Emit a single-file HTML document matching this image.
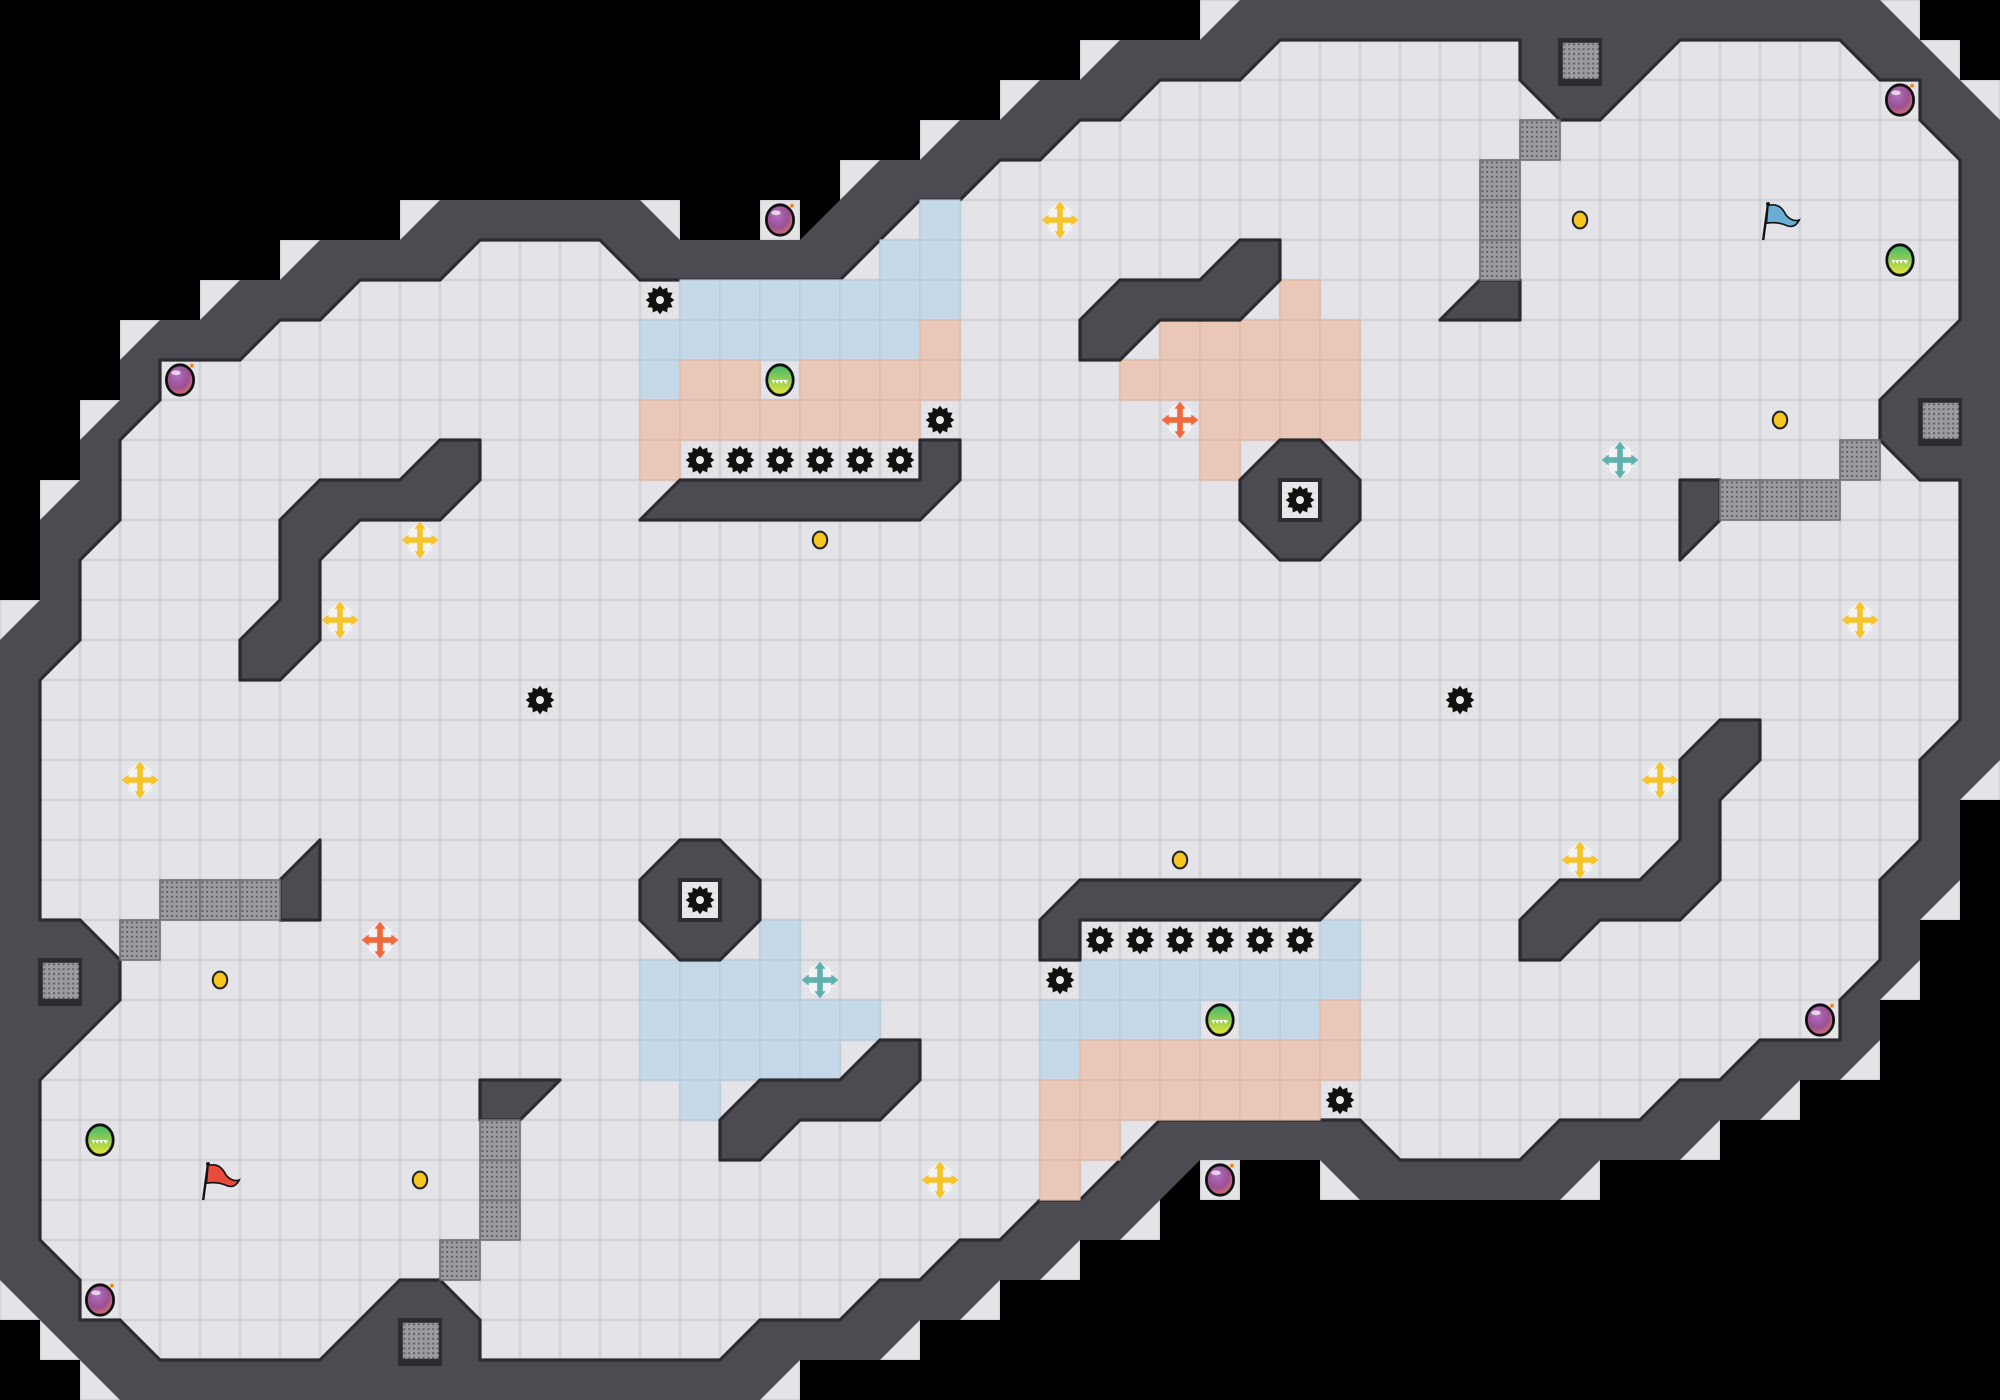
<!DOCTYPE html>
<html><head><meta charset="utf-8"><style>
html,body{margin:0;padding:0;background:#000;}
svg{display:block;}
</style></head><body>
<svg width="2000" height="1400" viewBox="0 0 2000 1400" xmlns="http://www.w3.org/2000/svg">
<defs>
<pattern id="fl" patternUnits="userSpaceOnUse" width="1" height="1">
<rect width="1" height="1" fill="#d3d3d8"/><rect x="0.035" y="0.035" width="0.93" height="0.93" fill="#e4e4e8"/>
</pattern>
<pattern id="dots" patternUnits="userSpaceOnUse" width="0.12" height="0.12">
<rect width="0.12" height="0.12" fill="#9c9ca0"/><circle cx="0.06" cy="0.06" r="0.028" fill="#5e5e62"/>
</pattern>
<radialGradient id="bombg" cx="0.4" cy="0.35" r="0.7"><stop offset="0" stop-color="#b070c0"/><stop offset="0.6" stop-color="#9a4f90"/><stop offset="1" stop-color="#e07a6a"/></radialGradient>
<linearGradient id="greeng" x1="0" y1="0" x2="0" y2="1"><stop offset="0" stop-color="#3fb86a"/><stop offset="1" stop-color="#e8e43a"/></linearGradient>
<g id="saw">
<polygon fill="#111" points=".36,0 .261,.07 .312,.18 .191,.191 .18,.312 .07,.261 0,.36 -.07,.261 -.18,.312 -.191,.191 -.312,.18 -.261,.07 -.36,0 -.261,-.07 -.312,-.18 -.191,-.191 -.18,-.312 -.07,-.261 0,-.36 .07,-.261 .18,-.312 .191,-.191 .312,-.18 .261,-.07"/>
<circle r="0.27" fill="#111"/><circle r="0.1" fill="#e8e8ec"/>
</g>
<g id="bomb">
<ellipse rx="0.34" ry="0.38" fill="url(#bombg)" stroke="#111" stroke-width="0.07"/>
<ellipse cx="-0.1" cy="-0.18" rx="0.12" ry="0.06" fill="#fff" opacity="0.7"/>
<circle cx="0.3" cy="-0.36" r="0.05" fill="#f08a20"/>
</g>
<g id="green">
<ellipse rx="0.33" ry="0.38" fill="url(#greeng)" stroke="#111" stroke-width="0.07"/>
<path d="M-0.2,0 L0.2,0 L0.14,0.1 L0.08,0 L0.03,0.1 L-0.02,0 L-0.07,0.1 L-0.12,0 L-0.17,0.1Z" fill="#fff"/>
</g>
<g id="coin"><ellipse rx="0.18" ry="0.21" fill="#f6c520" stroke="#222" stroke-width="0.05"/></g>
<g id="cross">
<ellipse rx="0.34" ry="0.4" fill="#f6f6f8" opacity="0.8"/>
<rect x="-0.33" y="-0.07" width="0.66" height="0.14"/>
<rect x="-0.07" y="-0.33" width="0.14" height="0.66"/>
<polygon points="0,-0.46 -0.14,-0.28 0.14,-0.28"/>
<polygon points="0,0.46 -0.14,0.28 0.14,0.28"/>
<polygon points="-0.46,0 -0.28,-0.14 -0.28,0.14"/>
<polygon points="0.46,0 0.28,-0.14 0.28,0.14"/>
</g>
<g id="gb"><rect x="0" y="0" width="1" height="1" fill="url(#dots)" stroke="#707075" stroke-width="0.04"/></g>
<g id="gbf"><rect x="-0.1" y="-0.1" width="1.1" height="1.2" fill="#2b2b30"/><rect x="0.02" y="0.02" width="0.9" height="0.9" fill="url(#dots)"/></g>
</defs>
<rect width="2000" height="1400" fill="#000"/>
<g transform="scale(40)">
<g fill="url(#fl)">
<rect x="0" y="15" width="1" height="1"/><rect x="1" y="12" width="1" height="1"/><rect x="2" y="10" width="1" height="1"/><rect x="3" y="8" width="1" height="1"/><rect x="5" y="7" width="1" height="1"/><rect x="7" y="6" width="1" height="1"/><rect x="10" y="5" width="1" height="1"/><rect x="16" y="5" width="1" height="1"/><rect x="19" y="5" width="1" height="1"/><rect x="21" y="4" width="1" height="1"/><rect x="23" y="3" width="1" height="1"/><rect x="25" y="2" width="1" height="1"/><rect x="27" y="1" width="1" height="1"/><rect x="30" y="0" width="1" height="1"/><rect x="47" y="0" width="1" height="1"/><rect x="48" y="1" width="1" height="1"/><rect x="49" y="2" width="1" height="1"/>
<rect x="49" y="19" width="1" height="1"/><rect x="48" y="22" width="1" height="1"/><rect x="47" y="24" width="1" height="1"/><rect x="46" y="26" width="1" height="1"/><rect x="44" y="27" width="1" height="1"/><rect x="42" y="28" width="1" height="1"/><rect x="39" y="29" width="1" height="1"/><rect x="33" y="29" width="1" height="1"/><rect x="30" y="29" width="1" height="1"/><rect x="28" y="30" width="1" height="1"/><rect x="26" y="31" width="1" height="1"/><rect x="24" y="32" width="1" height="1"/><rect x="22" y="33" width="1" height="1"/><rect x="19" y="34" width="1" height="1"/><rect x="2" y="34" width="1" height="1"/><rect x="1" y="33" width="1" height="1"/><rect x="0" y="32" width="1" height="1"/>
</g>
<polygon fill="#4b4b51" points="0,16 1,15 1,13 2,12 2,11 3,10 3,9 4,8 5,8 6,7 7,7 8,6 10,6 11,5 16,5 17,6 20,6 22,4 23,4 24,3 25,3 26,2 27,2 28,1 30,1 31,0 47,0 50,3 50,19 49,20 49,22 48,23 48,24 47,25 47,26 46,27 45,27 44,28 43,28 42,29 40,29 39,30 34,30 33,29 30,29 28,31 27,31 26,32 25,32 24,33 23,33 22,34 20,34 19,35 3,35 0,32"/>
<polygon fill="url(#fl)" points="1,17 2,16 2,14 3,13 3,11 4,10 4,9 6,9 7,8 8,8 9,7 11,7 12,6 15,6 16,7 21,7 23,5 24,5 25,4 26,4 27,3 28,3 29,2 31,2 32,1 38,1 38,2 39,3 40,3 42,1 46,1 47,2 48,2 48,3 49,4 49,8 47,10 47,11 48,12 49,12 49,18 48,19 48,21 47,22 47,24 46,25 46,26 44,26 43,27 42,27 41,28 39,28 38,29 35,29 34,28 29,28 27,30 26,30 25,31 24,31 23,32 22,32 21,33 19,33 18,34 12,34 12,33 11,32 10,32 8,34 4,34 3,33 2,33 2,32 1,31 1,27 3,25 3,24 2,23 1,23"/>
<polygon fill="none" stroke="#2b2b30" stroke-width="0.08" points="1,17 2,16 2,14 3,13 3,11 4,10 4,9 6,9 7,8 8,8 9,7 11,7 12,6 15,6 16,7 21,7 23,5 24,5 25,4 26,4 27,3 28,3 29,2 31,2 32,1 38,1 38,2 39,3 40,3 42,1 46,1 47,2 48,2 48,3 49,4 49,8 47,10 47,11 48,12 49,12 49,18 48,19 48,21 47,22 47,24 46,25 46,26 44,26 43,27 42,27 41,28 39,28 38,29 35,29 34,28 29,28 27,30 26,30 25,31 24,31 23,32 22,32 21,33 19,33 18,34 12,34 12,33 11,32 10,32 8,34 4,34 3,33 2,33 2,32 1,31 1,27 3,25 3,24 2,23 1,23"/>
<g fill="#c4d8e8" stroke="#b6cadb" stroke-width="0.03">
<rect x="23" y="5" width="1" height="1"/><rect x="22" y="6" width="1" height="1"/><rect x="23" y="6" width="1" height="1"/>
<rect x="17" y="7" width="1" height="1"/><rect x="18" y="7" width="1" height="1"/><rect x="19" y="7" width="1" height="1"/><rect x="20" y="7" width="1" height="1"/><rect x="21" y="7" width="1" height="1"/><rect x="22" y="7" width="1" height="1"/><rect x="23" y="7" width="1" height="1"/>
<rect x="16" y="8" width="1" height="1"/><rect x="17" y="8" width="1" height="1"/><rect x="18" y="8" width="1" height="1"/><rect x="19" y="8" width="1" height="1"/><rect x="20" y="8" width="1" height="1"/><rect x="21" y="8" width="1" height="1"/><rect x="22" y="8" width="1" height="1"/>
<rect x="16" y="9" width="1" height="1"/>
<rect x="26" y="26" width="1" height="1"/><rect x="32" y="25" width="1" height="1"/><rect x="31" y="25" width="1" height="1"/><rect x="26" y="25" width="1" height="1"/><rect x="27" y="25" width="1" height="1"/><rect x="28" y="25" width="1" height="1"/><rect x="29" y="25" width="1" height="1"/>
<rect x="27" y="24" width="1" height="1"/><rect x="28" y="24" width="1" height="1"/><rect x="29" y="24" width="1" height="1"/><rect x="30" y="24" width="1" height="1"/><rect x="31" y="24" width="1" height="1"/><rect x="32" y="24" width="1" height="1"/><rect x="33" y="24" width="1" height="1"/><rect x="33" y="23" width="1" height="1"/>
<rect x="17" y="27" width="1" height="1"/>
<rect x="16" y="26" width="1" height="1"/><rect x="17" y="26" width="1" height="1"/><rect x="18" y="26" width="1" height="1"/><rect x="19" y="26" width="1" height="1"/><rect x="20" y="26" width="1" height="1"/>
<rect x="16" y="25" width="1" height="1"/><rect x="17" y="25" width="1" height="1"/><rect x="18" y="25" width="1" height="1"/><rect x="19" y="25" width="1" height="1"/><rect x="20" y="25" width="1" height="1"/><rect x="21" y="25" width="1" height="1"/>
<rect x="16" y="24" width="1" height="1"/><rect x="17" y="24" width="1" height="1"/><rect x="18" y="24" width="1" height="1"/><rect x="19" y="24" width="1" height="1"/><rect x="19" y="23" width="1" height="1"/>
</g>
<g fill="#ebc7b7" stroke="#dcb8a8" stroke-width="0.03">
<rect x="23" y="8" width="1" height="1"/>
<rect x="17" y="9" width="1" height="1"/><rect x="18" y="9" width="1" height="1"/><rect x="20" y="9" width="1" height="1"/><rect x="21" y="9" width="1" height="1"/><rect x="22" y="9" width="1" height="1"/><rect x="23" y="9" width="1" height="1"/>
<rect x="16" y="10" width="1" height="1"/><rect x="17" y="10" width="1" height="1"/><rect x="18" y="10" width="1" height="1"/><rect x="19" y="10" width="1" height="1"/><rect x="20" y="10" width="1" height="1"/><rect x="21" y="10" width="1" height="1"/><rect x="22" y="10" width="1" height="1"/>
<rect x="16" y="11" width="1" height="1"/>
<rect x="32" y="7" width="1" height="1"/>
<rect x="29" y="8" width="1" height="1"/><rect x="30" y="8" width="1" height="1"/><rect x="31" y="8" width="1" height="1"/><rect x="32" y="8" width="1" height="1"/><rect x="33" y="8" width="1" height="1"/>
<rect x="28" y="9" width="1" height="1"/><rect x="29" y="9" width="1" height="1"/><rect x="30" y="9" width="1" height="1"/><rect x="31" y="9" width="1" height="1"/><rect x="32" y="9" width="1" height="1"/><rect x="33" y="9" width="1" height="1"/>
<rect x="30" y="10" width="1" height="1"/><rect x="31" y="10" width="1" height="1"/><rect x="32" y="10" width="1" height="1"/><rect x="33" y="10" width="1" height="1"/>
<rect x="30" y="11" width="1" height="1"/>
<rect x="26" y="29" width="1" height="1"/><rect x="26" y="28" width="1" height="1"/><rect x="27" y="28" width="1" height="1"/>
<rect x="26" y="27" width="1" height="1"/><rect x="27" y="27" width="1" height="1"/><rect x="28" y="27" width="1" height="1"/><rect x="29" y="27" width="1" height="1"/><rect x="30" y="27" width="1" height="1"/><rect x="31" y="27" width="1" height="1"/><rect x="32" y="27" width="1" height="1"/>
<rect x="27" y="26" width="1" height="1"/><rect x="28" y="26" width="1" height="1"/><rect x="29" y="26" width="1" height="1"/><rect x="30" y="26" width="1" height="1"/><rect x="31" y="26" width="1" height="1"/><rect x="32" y="26" width="1" height="1"/><rect x="33" y="26" width="1" height="1"/>
<rect x="33" y="25" width="1" height="1"/>
</g>
<g fill="#4b4b51" stroke="#2b2b30" stroke-width="0.08" stroke-linejoin="round">
<polygon points="11,11 12,11 12,12 11,13 9,13 8,14 8,16 7,17 6,17 6,16 7,15 7,13 8,12 10,12"/>
<polygon points="23,11 24,11 24,12 23,13 16,13 17,12 23,12"/>
<polygon points="32,11 33,11 34,12 34,13 33,14 32,14 31,13 31,12"/>
<polygon points="31,6 32,6 32,7 31,8 29,8 28,9 27,9 27,8 28,7 30,7"/>
<polygon points="36,8 37,7 38,7 38,8"/>
<polygon points="42,12 43,12 43,13 42,14"/>
<polygon points="39,24 38,24 38,23 39,22 41,22 42,21 42,19 43,18 44,18 44,19 43,20 43,22 42,23 40,23"/>
<polygon points="27,24 26,24 26,23 27,22 34,22 33,23 27,23"/>
<polygon points="18,24 17,24 16,23 16,22 17,21 18,21 19,22 19,23"/>
<polygon points="19,29 18,29 18,28 19,27 21,27 22,26 23,26 23,27 22,28 20,28"/>
<polygon points="14,27 13,28 12,28 12,27"/>
<polygon points="8,23 7,23 7,22 8,21"/>
</g>
<rect x="32" y="12" width="1" height="1" fill="#e6e6ea" stroke="#2b2b30" stroke-width="0.1"/>
<rect x="17" y="22" width="1" height="1" fill="#e6e6ea" stroke="#2b2b30" stroke-width="0.1"/>
<use href="#gb" x="38" y="3"/><use href="#gb" x="37" y="4"/><use href="#gb" x="37" y="5"/><use href="#gb" x="37" y="6"/>
<use href="#gb" x="46" y="11"/><use href="#gb" x="43" y="12"/><use href="#gb" x="44" y="12"/><use href="#gb" x="45" y="12"/>
<use href="#gb" x="11" y="31"/><use href="#gb" x="12" y="30"/><use href="#gb" x="12" y="29"/><use href="#gb" x="12" y="28"/>
<use href="#gb" x="3" y="23"/><use href="#gb" x="4" y="22"/><use href="#gb" x="5" y="22"/><use href="#gb" x="6" y="22"/>
<use href="#gbf" x="39.05" y="1.05"/><use href="#gbf" x="48.05" y="10.05"/><use href="#gbf" x="10.05" y="33.05"/><use href="#gbf" x="1.05" y="24.05"/>
<g>
<use href="#saw" transform="translate(16.5,7.5)"/><use href="#saw" transform="translate(23.5,10.5)"/>
<use href="#saw" transform="translate(17.5,11.5)"/><use href="#saw" transform="translate(18.5,11.5)"/><use href="#saw" transform="translate(19.5,11.5)"/><use href="#saw" transform="translate(20.5,11.5)"/><use href="#saw" transform="translate(21.5,11.5)"/><use href="#saw" transform="translate(22.5,11.5)"/>
<use href="#saw" transform="translate(32.5,12.5)"/><use href="#saw" transform="translate(13.5,17.5)"/>
<use href="#saw" transform="translate(33.5,27.5)"/><use href="#saw" transform="translate(26.5,24.5)"/>
<use href="#saw" transform="translate(32.5,23.5)"/><use href="#saw" transform="translate(31.5,23.5)"/><use href="#saw" transform="translate(30.5,23.5)"/><use href="#saw" transform="translate(29.5,23.5)"/><use href="#saw" transform="translate(28.5,23.5)"/><use href="#saw" transform="translate(27.5,23.5)"/>
<use href="#saw" transform="translate(17.5,22.5)"/><use href="#saw" transform="translate(36.5,17.5)"/>
</g>
<use href="#green" transform="translate(19.5,9.5)"/><use href="#green" transform="translate(47.5,6.5)"/><use href="#green" transform="translate(30.5,25.5)"/><use href="#green" transform="translate(2.5,28.5)"/>
<use href="#bomb" transform="translate(19.5,5.5)"/><use href="#bomb" transform="translate(4.5,9.5)"/><use href="#bomb" transform="translate(47.5,2.5)"/><use href="#bomb" transform="translate(30.5,29.5)"/><use href="#bomb" transform="translate(45.5,25.5)"/><use href="#bomb" transform="translate(2.5,32.5)"/>
<use href="#coin" transform="translate(20.5,13.5)"/><use href="#coin" transform="translate(39.5,5.5)"/><use href="#coin" transform="translate(44.5,10.5)"/><use href="#coin" transform="translate(29.5,21.5)"/><use href="#coin" transform="translate(10.5,29.5)"/><use href="#coin" transform="translate(5.5,24.5)"/>
<g fill="#f6c42a">
<use href="#cross" transform="translate(10.5,13.5)"/><use href="#cross" transform="translate(8.5,15.5)"/><use href="#cross" transform="translate(26.5,5.5)"/><use href="#cross" transform="translate(46.5,15.5)"/>
<use href="#cross" transform="translate(39.5,21.5)"/><use href="#cross" transform="translate(41.5,19.5)"/><use href="#cross" transform="translate(23.5,29.5)"/><use href="#cross" transform="translate(3.5,19.5)"/>
</g>
<g fill="#f0693a"><use href="#cross" transform="translate(29.5,10.5)"/><use href="#cross" transform="translate(9.5,23.5)"/></g>
<g fill="#5eb1ae"><use href="#cross" transform="translate(40.5,11.5)"/><use href="#cross" transform="translate(20.5,24.5)"/></g>
<g transform="translate(44.5,5.5)">
<line x1="-0.42" y1="0.5" x2="-0.3" y2="-0.4" stroke="#111" stroke-width="0.06"/>
<circle cx="-0.3" cy="-0.4" r="0.05" fill="#111"/>
<path d="M-0.3,-0.36 Q0,-0.45 0.15,-0.12 Q0.32,0.06 0.48,0.0 Q0.36,0.24 0.12,0.12 Q-0.08,0.04 -0.34,0.08Z" fill="#6aaed6" stroke="#111" stroke-width="0.04"/>
</g>
<g transform="translate(5.5,29.5)">
<line x1="-0.42" y1="0.5" x2="-0.3" y2="-0.4" stroke="#111" stroke-width="0.06"/>
<circle cx="-0.3" cy="-0.4" r="0.05" fill="#111"/>
<path d="M-0.3,-0.36 Q0,-0.45 0.15,-0.12 Q0.32,0.06 0.48,0.0 Q0.36,0.24 0.12,0.12 Q-0.08,0.04 -0.34,0.08Z" fill="#e84a3c" stroke="#111" stroke-width="0.04"/>
</g>
</g>
</svg>
</body></html>
